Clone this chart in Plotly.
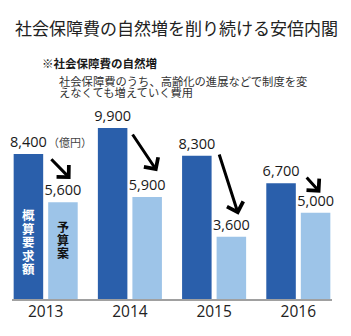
import plotly.graph_objects as go

# 社会保障費の自然増（億円）
years = ["2013", "2014", "2015", "2016"]
request = [8400, 9900, 8300, 6700]   # 概算要求額
budget = [5600, 5900, 3600, 5000]    # 予算案

FONT = "Noto Sans CJK JP"
NUM_FONT = "Open Sans"
DARK = "#2a5fab"
LIGHT = "#9dc4e8"
TEXT = "#1a1a1a"

W, H = 351, 336
ML, MR, MT, MB = 12, 19, 109, 37
PW, PH = W - ML - MR, H - MT - MB


def px(x):
    """figure pixel x -> paper x"""
    return (x - ML) / PW


def py(y):
    """figure pixel y -> paper y"""
    return (H - MB - y) / PH


fig = go.Figure()
fig.add_trace(go.Bar(
    x=years, y=request, marker=dict(color=DARK, line=dict(width=0)),
    text=[f"{v:,}" for v in request], textposition="outside",
    textfont=dict(family=NUM_FONT, size=14.5, color=TEXT), constraintext="none",
    cliponaxis=False, name="概算要求額"))
fig.add_trace(go.Bar(
    x=years, y=budget, marker=dict(color=LIGHT, line=dict(width=0)),
    text=[f"{v:,}" for v in budget], textposition="outside",
    textfont=dict(family=NUM_FONT, size=14.5, color=TEXT), constraintext="none",
    cliponaxis=False, name="予算案"))

ann = []
# title and note
ann.append(dict(text="社会保障費の自然増を削り続ける安倍内閣", xref="paper", yref="paper",
                x=px(176), y=py(27), xanchor="center", yanchor="middle",
                showarrow=False, font=dict(family=FONT, size=17, color="#222222")))
ann.append(dict(text="<b>※社会保障費の自然増</b>", xref="paper", yref="paper",
                x=px(40), y=py(62.5), xanchor="left", yanchor="middle",
                showarrow=False, font=dict(family=FONT, size=11.5, color=TEXT)))
for i, line in enumerate(["社会保障費のうち、高齢化の進展などで制度を変",
                          "えなくても増えていく費用"]):
    ann.append(dict(text=line, xref="paper", yref="paper",
                    x=px(57), y=py(80.5 + 11 * i), xanchor="left", yanchor="middle",
                    showarrow=False, font=dict(family=FONT, size=11.3, color="#333333")))

# unit next to the first value
ann.append(dict(text="（億円）", x=0.0, y=request[0], xref="x", yref="y",
                xanchor="left", yanchor="bottom", yshift=2, showarrow=False,
                font=dict(family=FONT, size=11, color="#444444")))

# vertical series labels inside the 2013 bars
BAR_OFF = 0.201
for k, ch in enumerate("概算要求額"):
    ann.append(dict(text="<b>" + ch + "</b>", x=-BAR_OFF, y=request[0], xref="x", yref="y",
                    yshift=-(60.5 + 13.6 * k), xanchor="center", yanchor="middle",
                    showarrow=False, font=dict(family=FONT, size=12.5, color="white")))
for k, ch in enumerate("予算案"):
    ann.append(dict(text="<b>" + ch + "</b>", x=BAR_OFF, y=budget[0], xref="x", yref="y",
                    yshift=-(24.5 + 13 * k), xanchor="center", yanchor="middle",
                    showarrow=False, font=dict(family=FONT, size=12, color="#111111")))

# reduction arrows from request to budget
tail_dx = [0.05, 0.02, 0.055, 0.083]
tail_dy = [-220, -290, 150, 420]
head_dx = [0.295, 0.325, 0.29, 0.262]
head_dy = [1350, 1490, 1280, 1155]
for i in range(len(years)):
    ann.append(dict(x=i + head_dx[i], y=budget[i] + head_dy[i],
                    ax=i + tail_dx[i], ay=request[i] + tail_dy[i],
                    xref="x", yref="y", axref="x", ayref="y", text="",
                    showarrow=True, arrowhead=4, arrowsize=1.1, arrowwidth=3,
                    arrowcolor="#000000", standoff=0, startstandoff=0))

fig.update_layout(
    width=W, height=H, margin=dict(l=ML, r=MR, t=MT, b=MB),
    paper_bgcolor="white", plot_bgcolor="white", showlegend=False,
    barmode="group", bargap=0.18, bargroupgap=0.145,
    annotations=ann, font=dict(family=FONT),
    xaxis=dict(type="category", range=[-0.4, 3.4], showline=True, linecolor="#a0a0a0",
               linewidth=2, ticks="", showgrid=False, zeroline=False,
               ticklabelstandoff=-3,
               tickfont=dict(family=NUM_FONT, size=15.5, color="#222222")),
    yaxis=dict(range=[0, 11000], visible=False, showgrid=False, zeroline=False),
)

fig.write_html("out.html")
